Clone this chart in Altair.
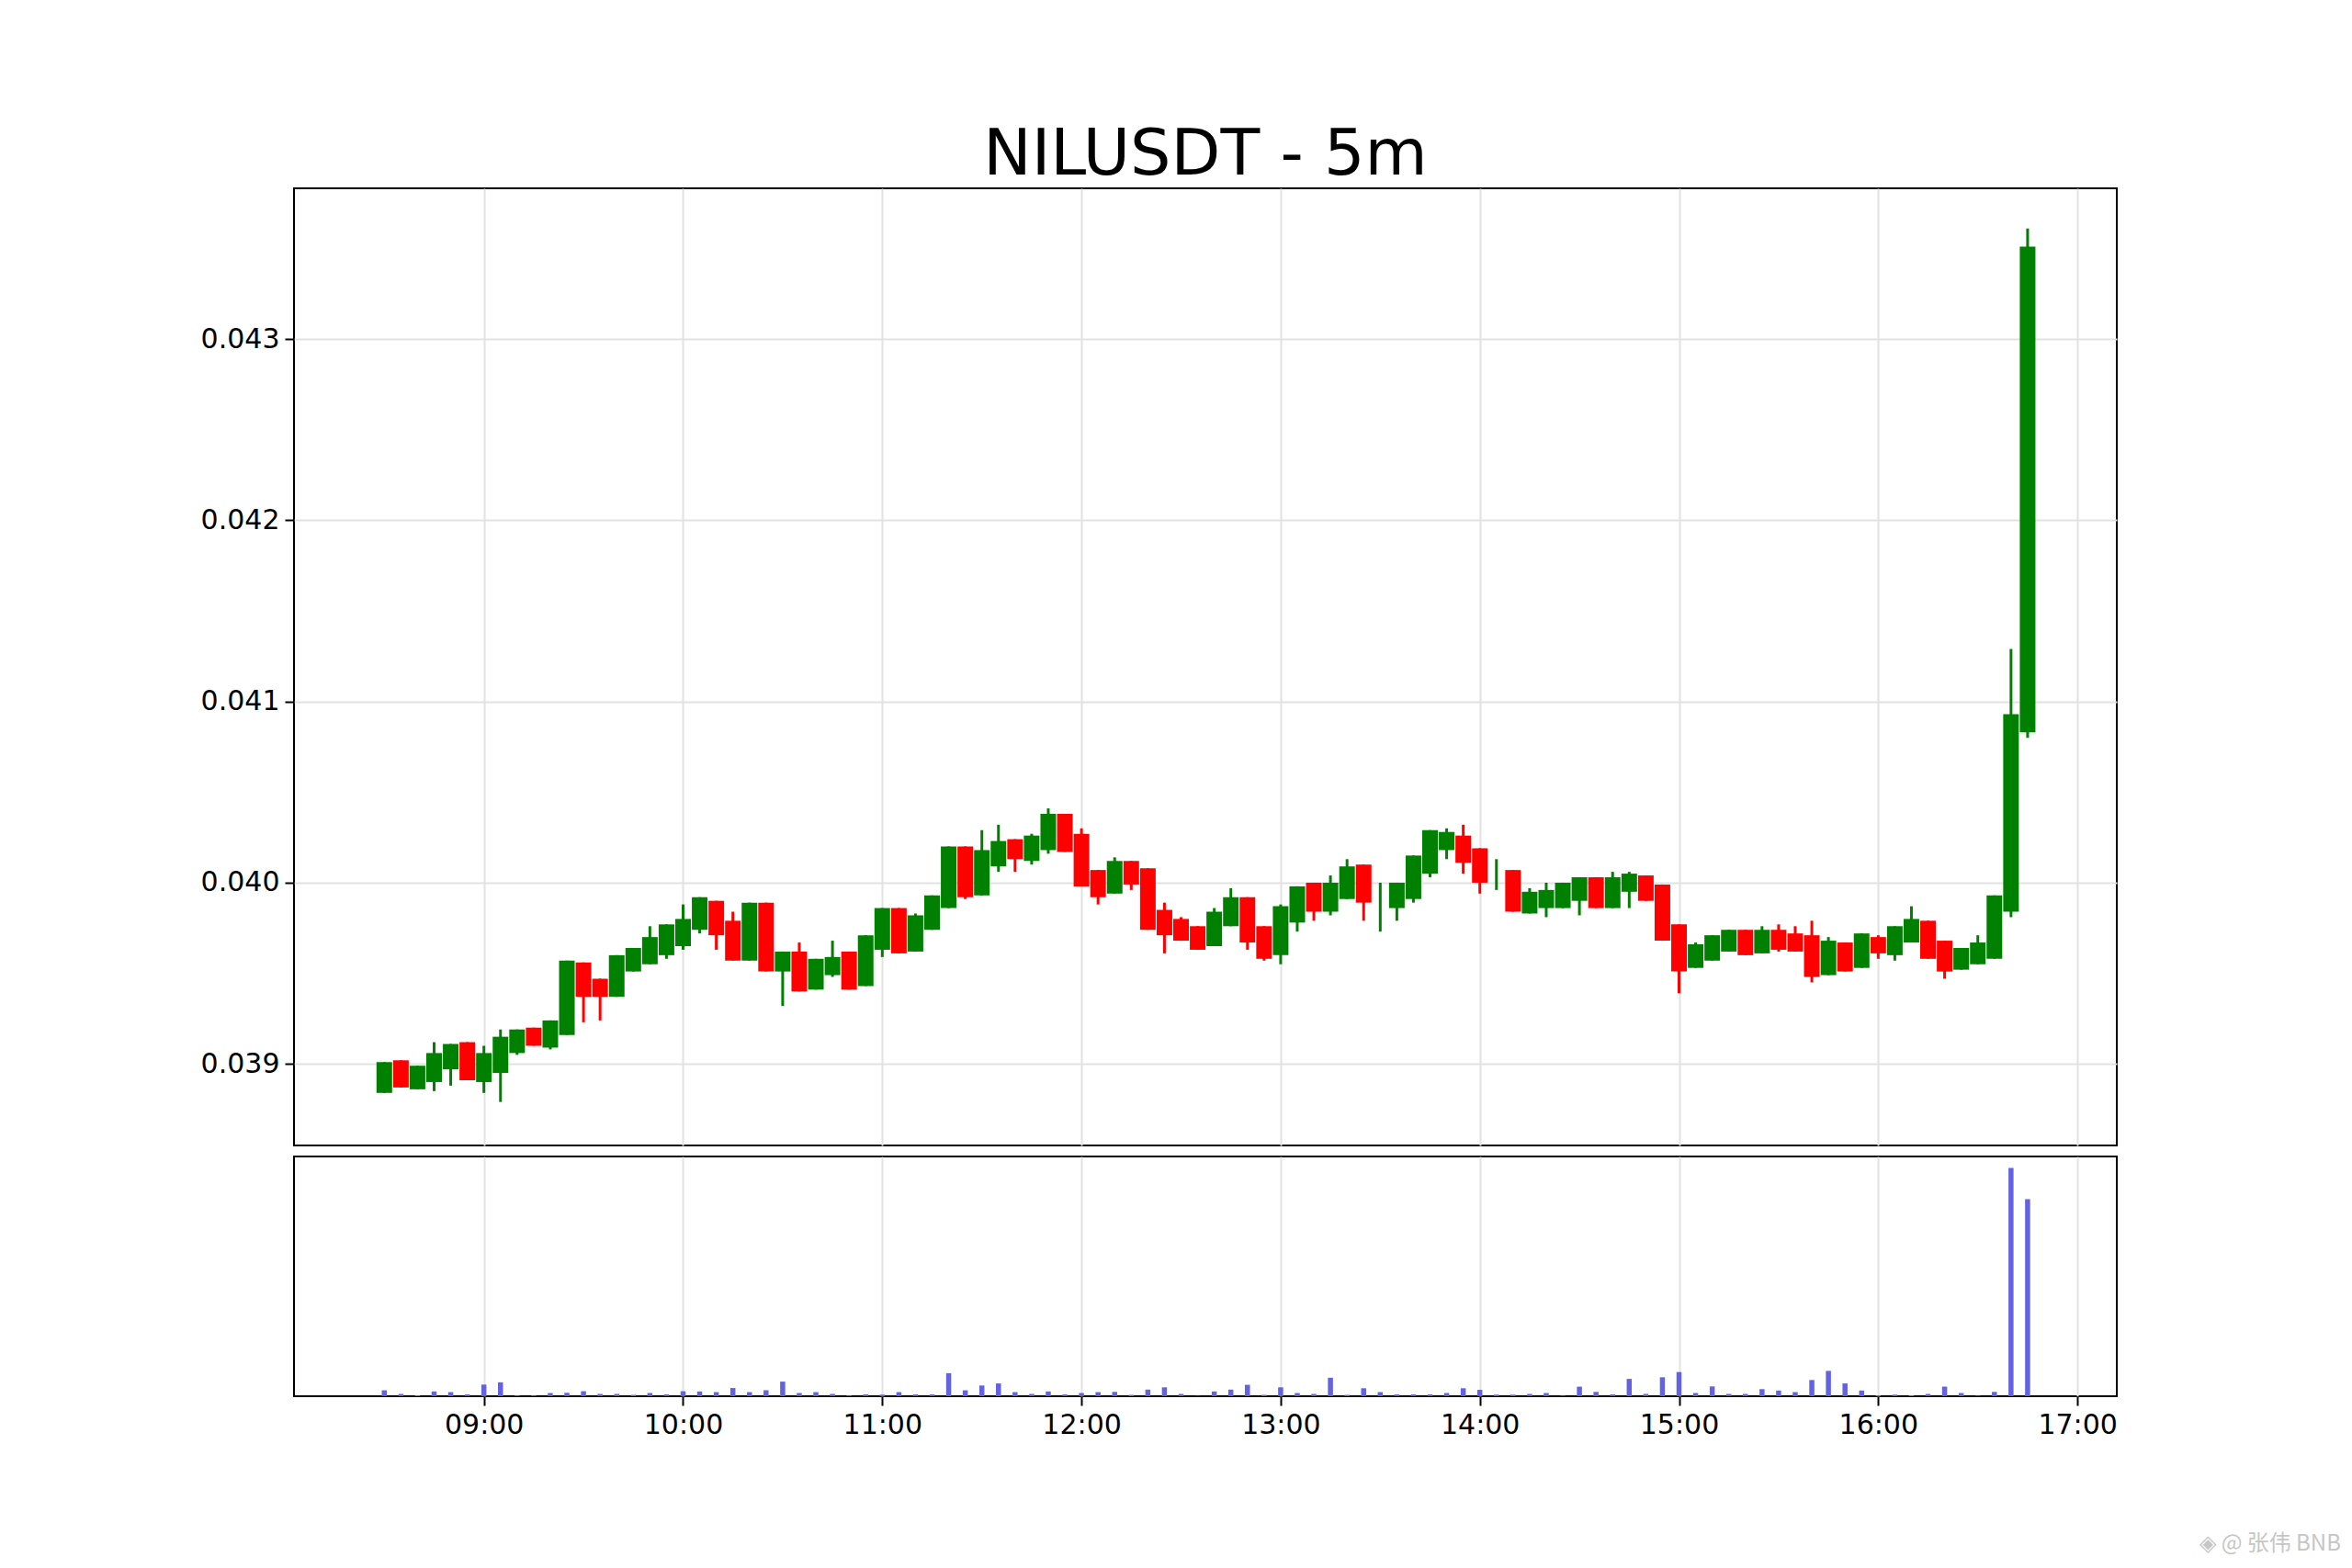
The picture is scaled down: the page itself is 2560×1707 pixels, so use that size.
import altair as alt
import pandas as pd

# 5-minute candle timestamps 08:30 .. 16:45
times = pd.date_range("2025-01-01 08:30", "2025-01-01 16:45", freq="5min").strftime("%Y-%m-%dT%H:%M:%S").tolist()

opens = [0.03884,0.03902,0.03886,0.03890,0.03897,0.03912,0.03890,0.03895,0.03906,0.03920,
         0.03909,0.03916,0.03956,0.03947,0.03937,0.03951,0.03955,0.03960,0.03965,0.03974,
         0.03990,0.03979,0.03957,0.03989,0.03951,0.03962,0.03941,0.03949,0.03962,0.03943,
         0.03963,0.03986,0.03962,0.03974,0.03986,0.04020,0.03993,0.04009,0.04024,0.04012,
         0.04018,0.04038,0.04027,0.04007,0.03994,0.04012,0.04008,0.03985,0.03980,0.03976,
         0.03965,0.03976,0.03992,0.03976,0.03960,0.03978,0.04000,0.03984,0.03991,0.04010,
         0.03990,0.03986,0.03991,0.04005,0.04018,0.04026,0.04019,0.04005,0.04007,0.03983,
         0.03986,0.03986,0.03990,0.04003,0.03986,0.03995,0.04004,0.03999,0.03977,0.03953,
         0.03957,0.03962,0.03974,0.03961,0.03974,0.03972,0.03971,0.03949,0.03967,0.03953,
         0.03970,0.03960,0.03967,0.03979,0.03968,0.03952,0.03955,0.03958,0.03984,0.04083]

closes = [0.03901,0.03887,0.03899,0.03906,0.03911,0.03891,0.03906,0.03915,0.03919,0.03910,
          0.03924,0.03957,0.03937,0.03937,0.03960,0.03964,0.03970,0.03977,0.03980,0.03992,
          0.03971,0.03957,0.03989,0.03951,0.03962,0.03940,0.03958,0.03959,0.03941,0.03971,
          0.03986,0.03961,0.03982,0.03993,0.04020,0.03992,0.04018,0.04023,0.04013,0.04026,
          0.04038,0.04017,0.03998,0.03992,0.04012,0.03999,0.03974,0.03971,0.03968,0.03963,
          0.03984,0.03992,0.03967,0.03958,0.03987,0.03998,0.03984,0.04000,0.04009,0.03989,
          0.03990,0.04000,0.04015,0.04029,0.04028,0.04011,0.04000,0.04005,0.03984,0.03995,
          0.03996,0.04000,0.04003,0.03986,0.04003,0.04005,0.03990,0.03968,0.03951,0.03966,
          0.03971,0.03974,0.03960,0.03974,0.03963,0.03962,0.03948,0.03968,0.03951,0.03972,
          0.03961,0.03976,0.03980,0.03958,0.03951,0.03964,0.03967,0.03993,0.04093,0.04351]

highs = [0.03901,0.03902,0.03899,0.03912,0.03911,0.03912,0.03910,0.03919,0.03919,0.03920,
         0.03924,0.03957,0.03956,0.03947,0.03960,0.03964,0.03976,0.03977,0.03988,0.03992,
         0.03990,0.03984,0.03989,0.03989,0.03962,0.03967,0.03958,0.03968,0.03962,0.03971,
         0.03986,0.03986,0.03983,0.03993,0.04020,0.04020,0.04029,0.04032,0.04024,0.04027,
         0.04041,0.04038,0.04030,0.04007,0.04014,0.04012,0.04008,0.03989,0.03981,0.03976,
         0.03986,0.03997,0.03992,0.03976,0.03988,0.03998,0.04000,0.04004,0.04013,0.04010,
         0.04000,0.04000,0.04015,0.04029,0.04030,0.04032,0.04019,0.04013,0.04007,0.03997,
         0.04000,0.04000,0.04003,0.04003,0.04006,0.04006,0.04004,0.03999,0.03977,0.03967,
         0.03971,0.03974,0.03974,0.03976,0.03977,0.03976,0.03979,0.03970,0.03967,0.03972,
         0.03971,0.03976,0.03987,0.03979,0.03968,0.03964,0.03971,0.03993,0.04129,0.04361]

lows = [0.03884,0.03887,0.03886,0.03885,0.03888,0.03891,0.03884,0.03879,0.03905,0.03910,
        0.03908,0.03916,0.03923,0.03924,0.03937,0.03951,0.03955,0.03958,0.03963,0.03972,
        0.03963,0.03957,0.03957,0.03951,0.03932,0.03940,0.03941,0.03948,0.03941,0.03943,
        0.03959,0.03961,0.03962,0.03974,0.03986,0.03991,0.03993,0.04006,0.04006,0.04010,
        0.04016,0.04017,0.03998,0.03988,0.03994,0.03996,0.03974,0.03961,0.03968,0.03963,
        0.03965,0.03976,0.03963,0.03957,0.03955,0.03973,0.03979,0.03982,0.03991,0.03979,
        0.03973,0.03979,0.03989,0.04003,0.04013,0.04005,0.03994,0.03996,0.03984,0.03983,
        0.03981,0.03986,0.03982,0.03986,0.03986,0.03986,0.03990,0.03968,0.03939,0.03953,
        0.03957,0.03962,0.03960,0.03961,0.03962,0.03962,0.03945,0.03949,0.03951,0.03953,
        0.03958,0.03957,0.03967,0.03958,0.03947,0.03952,0.03955,0.03958,0.03981,0.04080]

volumes = [2.6,1.0,0.4,2.1,1.8,0.8,5.1,6.1,0.3,0.3,
           1.4,1.5,2.2,1.0,1.0,0.6,1.4,0.8,2.2,2.1,
           1.8,3.6,1.8,2.6,6.4,1.4,1.8,1.0,0.3,0.8,
           0.7,1.8,0.8,0.8,10.1,2.6,4.7,5.6,1.8,1.0,
           2.1,0.8,1.4,1.8,1.9,0.6,2.9,3.9,1.0,0.1,
           2.1,2.9,5.0,0.6,3.9,1.4,1.0,8.1,0.6,3.5,
           1.8,0.8,0.8,0.8,1.4,3.5,2.8,0.7,0.7,1.0,
           1.4,0.2,4.2,1.9,0.8,7.6,1.0,8.3,10.6,1.4,
           4.3,1.0,1.0,3.1,2.5,1.8,7.1,11.1,5.6,2.5,
           0.4,0.7,0.4,1.0,4.2,1.4,0.2,1.9,100.0,86.3]

price_ticks = [0.039, 0.040, 0.041, 0.042, 0.043]
hour_ticks = [9, 10, 11, 12, 13, 14, 15, 16, 17]
title_text = "NILUSDT - 5m"
watermark = "◈ @ 张伟 BNB"

df = pd.DataFrame({
    "time": times, "open": opens, "high": highs, "low": lows,
    "close": closes, "volume": volumes,
})
df["dir"] = ["up" if c >= o else "down" for o, c in zip(opens, closes)]

FONT = "DejaVu Sans"
hour_values = [alt.DateTime(year=2025, month=1, date=1, hours=h, minutes=0) for h in hour_ticks]
x_scale = alt.Scale(domain=[alt.DateTime(year=2025, month=1, date=1, hours=8, minutes=4, seconds=11),
                            alt.DateTime(year=2025, month=1, date=1, hours=17, minutes=10, seconds=29)])
color = alt.Color("dir:N", scale=alt.Scale(domain=["up", "down"], range=["green", "red"]), legend=None)
GRID = "#e2e2e2"

x_price = alt.X("time:T", scale=x_scale,
                axis=alt.Axis(values=hour_values, labels=False, ticks=False, domain=False,
                              grid=True, gridColor=GRID, gridWidth=2, title=None))
y_scale = alt.Scale(domain=[0.03855, 0.043832], zero=False, nice=False)
y_axis = alt.Axis(values=price_ticks, format=".3f", labelFontSize=30, labelFont=FONT,
                  labelColor="black", tickSize=10, tickWidth=2, tickColor="black",
                  domain=False, grid=True, gridColor=GRID, gridWidth=2, title=None,
                  labelPadding=6)

base = alt.Chart(df)
wicks = base.mark_rule(strokeWidth=3).encode(
    x=x_price, y=alt.Y("low:Q", scale=y_scale, axis=y_axis), y2="high:Q", color=color)
bodies = base.mark_bar(size=17).encode(
    x=x_price, y=alt.Y("open:Q", scale=y_scale, axis=y_axis), y2="close:Q", color=color)

title_mark = alt.Chart(pd.DataFrame({"t": [title_text]})).mark_text(
    fontSize=70, font=FONT, color="black", align="center", baseline="alphabetic"
).encode(text="t:N", x=alt.value(992), y=alt.value(-15))

price = alt.layer(wicks, bodies, title_mark).properties(width=1984, height=1042)

x_vol = alt.X("time:T", scale=x_scale,
              axis=alt.Axis(values=hour_values, format="%H:%M", labelFontSize=30, labelFont=FONT,
                            labelColor="black", tickSize=10, tickWidth=2, tickColor="black",
                            domain=False, grid=True, gridColor=GRID, gridWidth=2, title=None,
                            labelPadding=6))
vol_bars = base.mark_bar(size=5.5, color="#6262e2").encode(
    x=x_vol,
    y=alt.Y("volume:Q", scale=alt.Scale(domain=[0, 105], nice=False), axis=None))

wm = alt.Chart(pd.DataFrame({"t": [watermark]})).mark_text(
    align="right", baseline="middle", fontSize=24, font="Noto Sans CJK SC", color="#c6c6c6"
).encode(text="t:N", x=alt.value(2228), y=alt.value(422))

volume = alt.layer(vol_bars, wm).properties(width=1984, height=261)

chart = alt.vconcat(price, volume, spacing=10).properties(
    padding={"left": 209, "top": 125, "right": 0, "bottom": 0}
).configure(font=FONT, background="white").configure_view(stroke="black", strokeWidth=2)

chart.save("out.html", embed_options={"renderer": "svg", "actions": False})
